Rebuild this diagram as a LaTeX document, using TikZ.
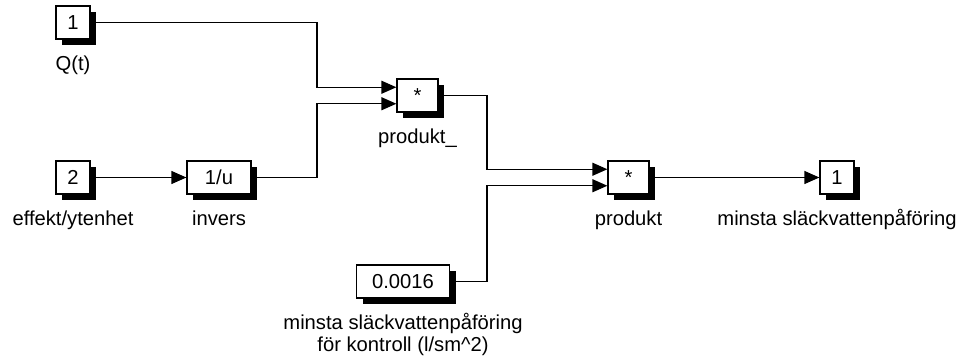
\documentclass[tikz,border=0pt]{standalone}
\usepackage{fontspec}
\setmainfont{Liberation Sans}
\usetikzlibrary{arrows.meta,shadows,calc}
\begin{document}
\begin{tikzpicture}[x=1pt,y=-1pt,
  font=\fontsize{20.2}{22.5}\selectfont,
  block/.style={draw, line width=1.3pt, fill=white, inner sep=0pt,
    minimum height=33pt, text height=14.5pt, text depth=0pt,
    drop shadow={shadow xshift=6pt, shadow yshift=-6pt, fill=black, opacity=1}},
  conn/.style={line width=1.3pt, -{Triangle[length=15pt,width=13pt]}},
  lbl/.style={anchor=base, inner sep=0pt, align=center}]
\useasboundingbox (0,0) rectangle (961,358);

% blocks
\node[block, minimum width=34pt] (in1) at (73,22.5) {1};
\node[block, minimum width=34pt] (in2) at (73,177.5) {2};
\node[block, minimum width=64pt] (inv) at (219,177.5) {1/u};
\node[block, minimum width=41pt] (prodA) at (417.5,95.5) {*};
\node[block, minimum width=41pt] (prodB) at (628.5,177.5) {*};
\node[block, minimum width=34pt] (out) at (837,177.5) {1};
\node[block, minimum width=93pt] (const) at (403,281.5) {0.0016};

% labels below the blocks
\node[lbl] (lin1) at ([yshift=-31pt]in1.south) {Q(t)};
\node[lbl] (lin2) at ([yshift=-31pt]in2.south) {effekt/ytenhet};
\node[lbl] (linv) at ([yshift=-31pt]inv.south) {invers};
\node[lbl] (lprodA) at ([yshift=-31pt]prodA.south) {produkt\_};
\node[lbl] (lprodB) at ([yshift=-31pt]prodB.south) {produkt};
\node[lbl] (lout) at ([yshift=-31pt]out.south) {minsta släckvattenpåföring};
% two-line label: base anchor sits on the last line
\node[lbl] (lconst) at ([yshift=-53pt]const.south) {minsta släckvattenpåföring\\för kontroll (l/sm\textasciicircum2)};

% input ports of the product blocks
\coordinate (pA1) at ($(prodA.west)+(0,-8.25)$);
\coordinate (pA2) at ($(prodA.west)+(0,8.25)$);
\coordinate (pB1) at ($(prodB.west)+(0,-8.25)$);
\coordinate (pB2) at ($(prodB.west)+(0,8.25)$);
\coordinate (jA) at (317,0);
\coordinate (jB) at (487,0);

% signal lines
\draw[conn] (in1.east) -| (jA |- pA1) -- (pA1);
\draw[conn] (in2.east) -- (inv.west);
\draw[conn] (inv.east) -| (jA |- pA2) -- (pA2);
\draw[conn] (prodA.east) -| (jB |- pB1) -- (pB1);
\draw[conn] (const.east) -| (jB |- pB2) -- (pB2);
\draw[conn] (prodB.east) -- (out.west);
\end{tikzpicture}
\end{document}
